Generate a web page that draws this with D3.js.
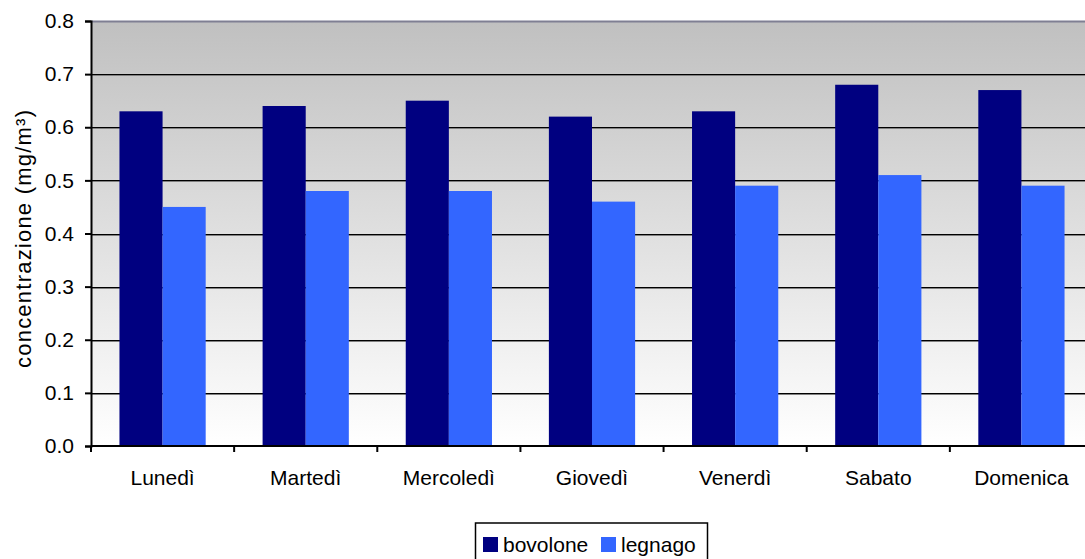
<!DOCTYPE html>
<html>
<head>
<meta charset="utf-8">
<script src="https://cdn.jsdelivr.net/npm/d3@7"></script>
<style>
  html, body { margin: 0; padding: 0; background: #fff; }
  svg { display: block; font-family: Arial, "Liberation Sans", sans-serif; }
</style>
</head>
<body>
<svg id="chart" width="1085" height="559"></svg>
<script>
// Weekly mean concentrations at the two stations
const days = ["Lunedì", "Martedì", "Mercoledì", "Giovedì", "Venerdì", "Sabato", "Domenica"];
const seriesNames = ["bovolone", "legnago"];
const bovolone = [0.63, 0.64, 0.65, 0.62, 0.63, 0.68, 0.67];
const legnago = [0.45, 0.48, 0.48, 0.46, 0.49, 0.51, 0.49];
const yTicks = [0, 0.1, 0.2, 0.3, 0.4, 0.5, 0.6, 0.7, 0.8];
const colors = ["#000080", "#3366FF"];

const svg = d3.select("#chart");
const plotL = 91, plotR = 1093, plotT = 21, plotB = 446;
const fontSize = 21;

const x = d3.scaleBand().domain(days).range([plotL, plotR]).paddingInner(0).paddingOuter(0);
// two adjacent bars per day, centred in the band with wide gaps between days
const x1 = d3.scaleBand().domain(seriesNames).range([0, x.bandwidth()]).paddingInner(0).paddingOuter(0.66);
const y = d3.scaleLinear().domain([0, 0.8]).range([plotB, plotT]);

// background gradient of the plot area
const defs = svg.append("defs");
const grad = defs.append("linearGradient").attr("id", "bg").attr("x1", 0).attr("y1", 0).attr("x2", 0).attr("y2", 1);
grad.append("stop").attr("offset", "0%").attr("stop-color", "#c0c0c0");
grad.append("stop").attr("offset", "100%").attr("stop-color", "#ffffff");

svg.append("rect")
  .attr("x", plotL).attr("y", plotT)
  .attr("width", plotR - plotL).attr("height", plotB - plotT)
  .attr("fill", "url(#bg)");

// top border of plot area
svg.append("line")
  .attr("x1", plotL).attr("x2", plotR)
  .attr("y1", plotT + 0.5).attr("y2", plotT + 0.5)
  .attr("stroke", "#7f7f93").attr("stroke-width", 2);

// horizontal gridlines
const grid = svg.append("g");
yTicks.filter(d => d > 0 && d < 0.8).forEach(d => {
  const yy = Math.round(y(d));
  grid.append("line").attr("x1", plotL).attr("x2", plotR)
    .attr("y1", yy + 0.5).attr("y2", yy + 0.5)
    .attr("stroke", "#000").attr("stroke-width", 1);
  grid.append("line").attr("x1", plotL).attr("x2", plotR)
    .attr("y1", yy + 1.5).attr("y2", yy + 1.5)
    .attr("stroke", "#808080").attr("stroke-width", 1);
});

// bars
const rows = days.map((d, i) => ({ day: d, values: [bovolone[i], legnago[i]] }));
const groups = svg.append("g").selectAll("g").data(rows).join("g")
  .attr("transform", d => `translate(${x(d.day)},0)`);
groups.selectAll("rect")
  .data(d => d.values.map((v, k) => ({ key: seriesNames[k], value: v, k })))
  .join("rect")
  .attr("x", d => x1(d.key))
  .attr("width", x1.bandwidth())
  .attr("y", d => y(d.value))
  .attr("height", d => y(0) - y(d.value))
  .attr("fill", d => colors[d.k]);

// y axis
const yAxis = d3.axisLeft(y).tickValues(yTicks).tickFormat(d3.format(".1f")).tickSize(6).tickPadding(11);
const gy = svg.append("g").attr("transform", `translate(${plotL},0)`).call(yAxis);
gy.select(".domain").attr("stroke", "#000").attr("stroke-width", 2);
gy.selectAll(".tick line").attr("stroke", "#000").attr("stroke-width", 2);
gy.selectAll(".tick text").attr("font-size", fontSize).attr("fill", "#000")
  .attr("font-family", "Arial, 'Liberation Sans', sans-serif");

// x axis with ticks at category boundaries
const gx = svg.append("g").attr("transform", `translate(0,${plotB})`);
gx.append("line").attr("x1", plotL).attr("x2", plotR).attr("y1", 0).attr("y2", 0)
  .attr("stroke", "#000").attr("stroke-width", 2);
const boundaries = days.map(d => x(d)).concat([plotR]);
gx.selectAll("line.tk").data(boundaries).join("line").attr("class", "tk")
  .attr("x1", d => d).attr("x2", d => d).attr("y1", 0).attr("y2", 6)
  .attr("stroke", "#000").attr("stroke-width", 2);
gx.selectAll("text").data(days).join("text")
  .attr("x", d => x(d) + x.bandwidth() / 2)
  .attr("y", 39)
  .attr("text-anchor", "middle")
  .attr("font-size", fontSize)
  .attr("fill", "#000")
  .text(d => d);

// y axis title (rotated text is set a little wider, as the original renderer does)
svg.append("text")
  .attr("transform", `translate(31,239) rotate(-90)`)
  .attr("text-anchor", "middle")
  .attr("font-size", 22)
  .attr("textLength", 258)
  .attr("lengthAdjust", "spacing")
  .attr("fill", "#000")
  .text("concentrazione (mg/m³)");

// legend
const lg = svg.append("g");
lg.append("rect").attr("x", 475.5).attr("y", 523).attr("width", 232).attr("height", 40)
  .attr("fill", "#fff").attr("stroke", "#000").attr("stroke-width", 1.5);
const legendX = [483, 601];
seriesNames.forEach((s, k) => {
  lg.append("rect").attr("x", legendX[k]).attr("y", 537).attr("width", 15).attr("height", 15)
    .attr("fill", colors[k]);
  lg.append("text").attr("x", legendX[k] + 20).attr("y", 552)
    .attr("font-size", fontSize).attr("fill", "#000").text(s);
});
</script>
</body>
</html>
